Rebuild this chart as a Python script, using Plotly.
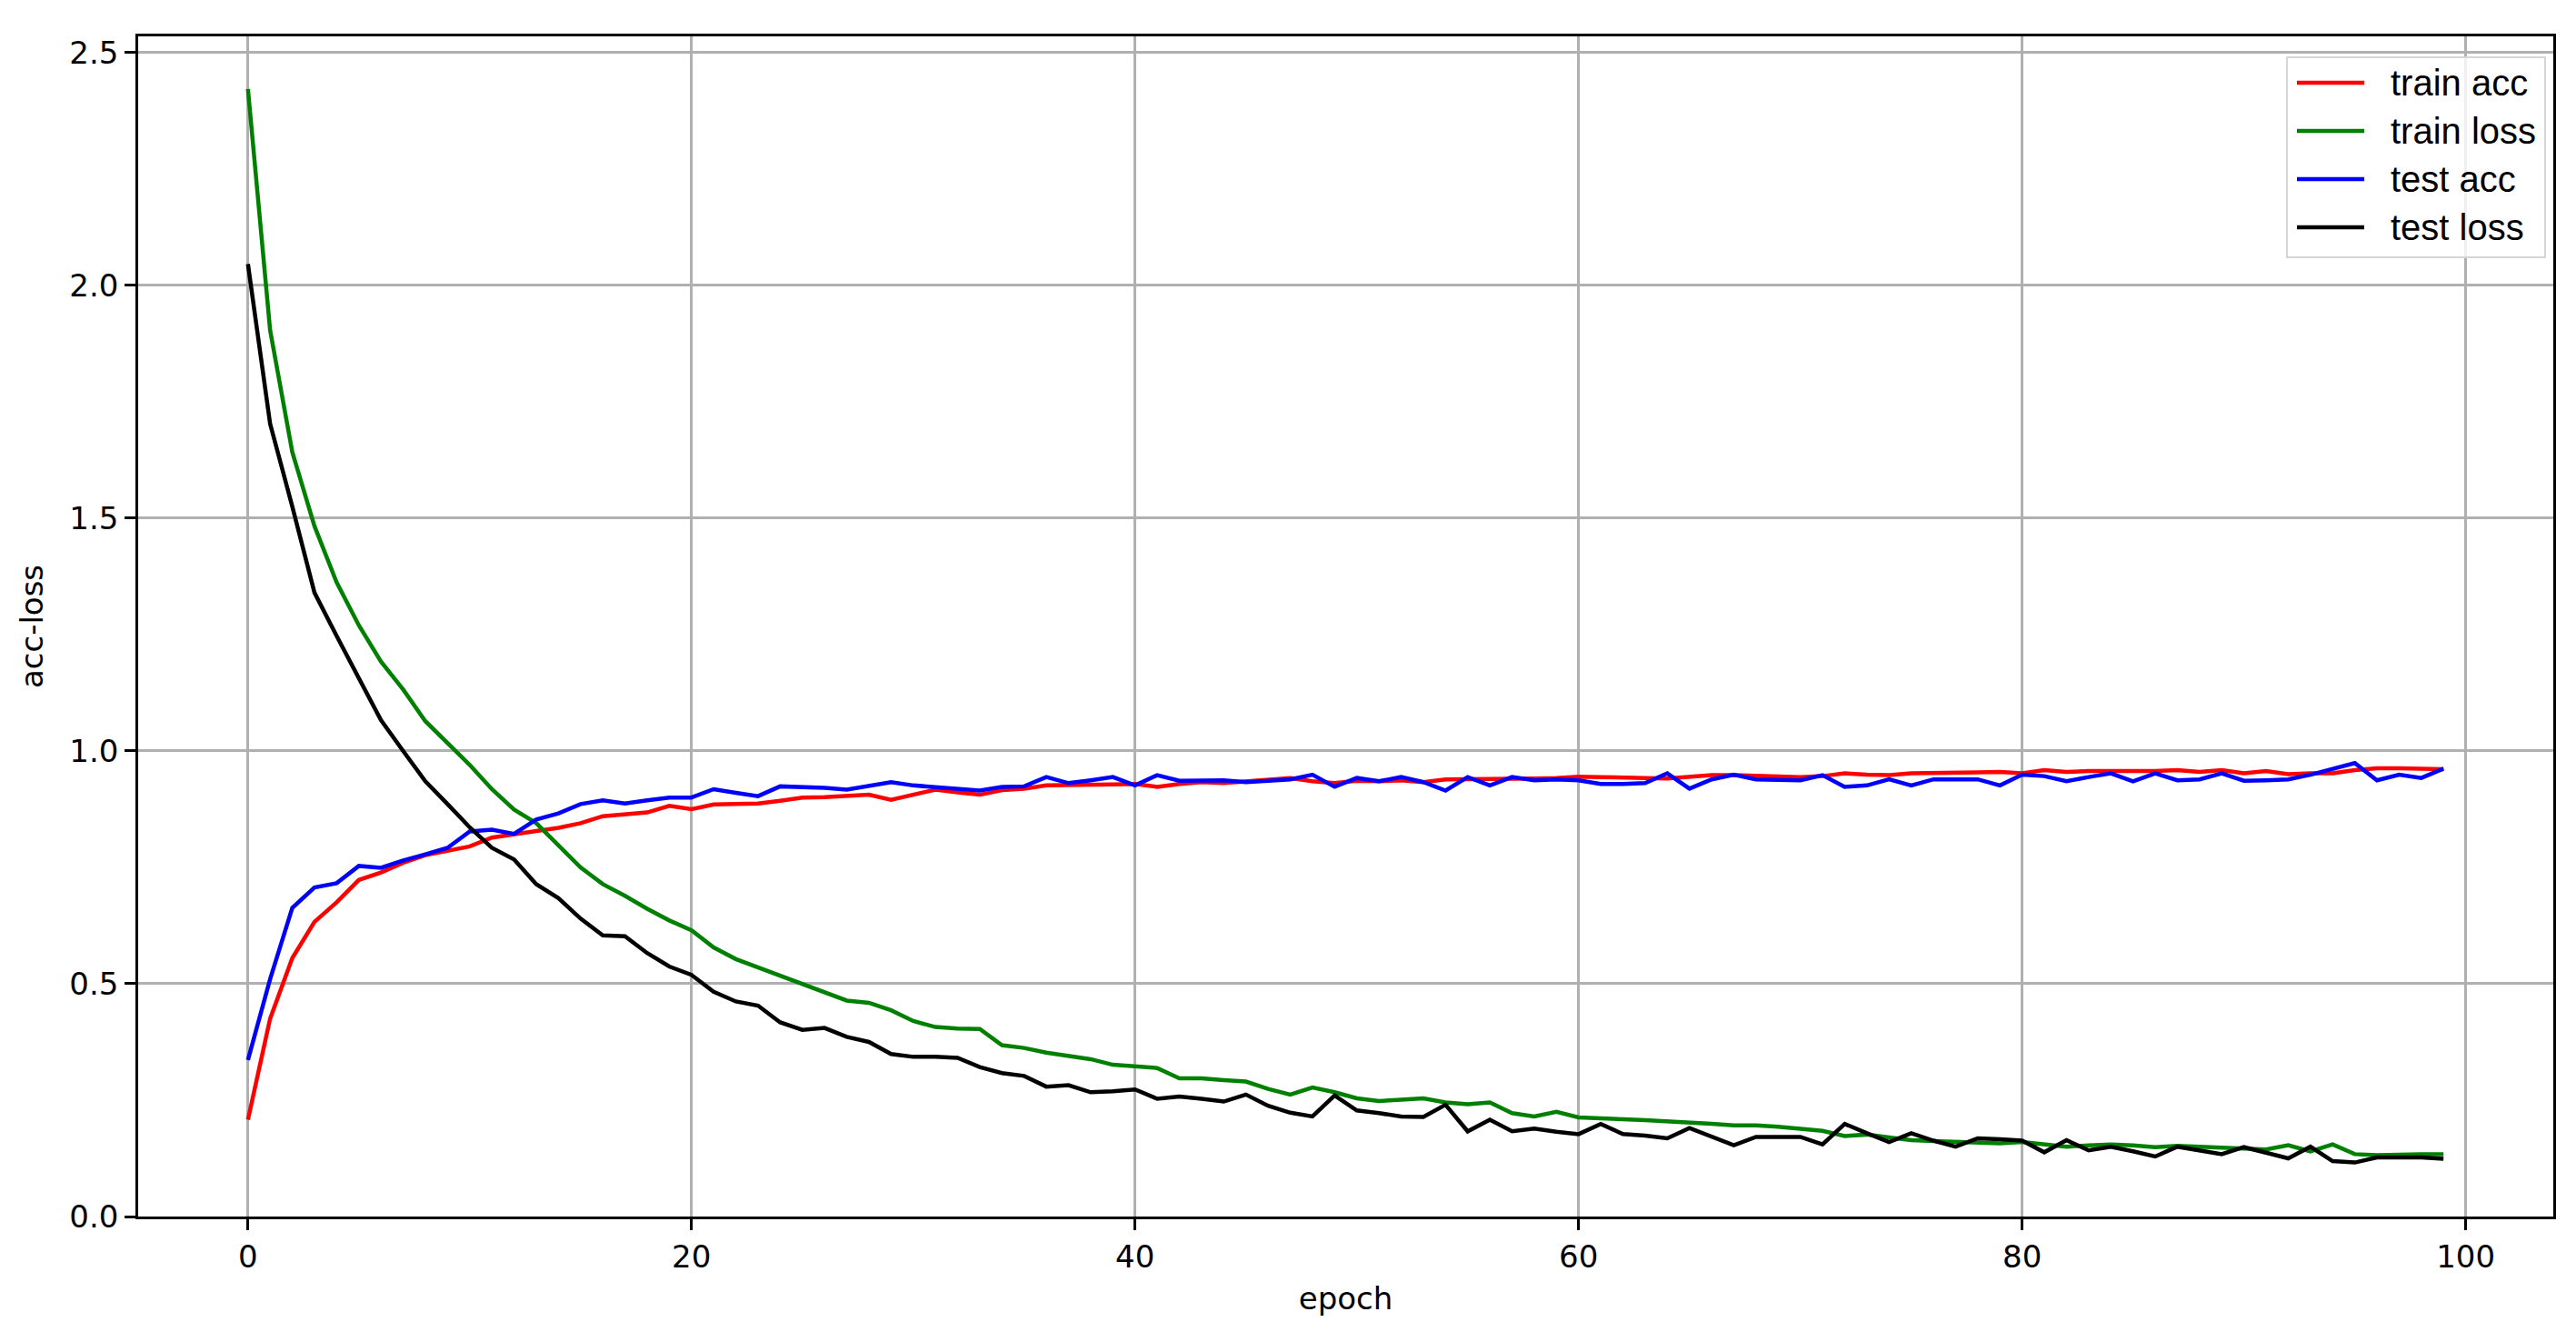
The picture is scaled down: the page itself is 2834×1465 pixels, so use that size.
import plotly.graph_objects as go

# values, one per epoch (0..99)
epochs = list(range(100))

train_acc = [
    0.208, 0.425, 0.555, 0.633, 0.675, 0.723, 0.739, 0.760, 0.776, 0.786,
    0.795, 0.814, 0.820, 0.828, 0.835, 0.845, 0.860, 0.865, 0.868, 0.882,
    0.875, 0.885, 0.885, 0.887, 0.893, 0.900, 0.901, 0.903, 0.906, 0.895,
    0.906, 0.917, 0.911, 0.906, 0.916, 0.919, 0.926, 0.926, 0.926, 0.928,
    0.929, 0.923, 0.929, 0.933, 0.931, 0.934, 0.937, 0.942, 0.935, 0.931,
    0.936, 0.935, 0.937, 0.933, 0.939, 0.939, 0.939, 0.941, 0.941, 0.942,
    0.945, 0.944, 0.942, 0.942, 0.941, 0.944, 0.948, 0.948, 0.946, 0.944,
    0.944, 0.946, 0.952, 0.949, 0.948, 0.952, 0.952, 0.954, 0.954, 0.955,
    0.952, 0.959, 0.955, 0.957, 0.957, 0.955, 0.957, 0.959, 0.955, 0.959,
    0.952, 0.957, 0.950, 0.952, 0.952, 0.959, 0.963, 0.963, 0.963, 0.961,
]

train_loss = [
    2.422, 1.904, 1.642, 1.483, 1.362, 1.270, 1.192, 1.132, 1.064, 1.016,
    0.970, 0.918, 0.874, 0.845, 0.796, 0.750, 0.714, 0.689, 0.661, 0.636,
    0.615, 0.578, 0.553, 0.535, 0.518, 0.498, 0.482, 0.464, 0.459, 0.443,
    0.420, 0.407, 0.404, 0.403, 0.368, 0.362, 0.352, 0.344, 0.338, 0.326,
    0.323, 0.319, 0.297, 0.297, 0.293, 0.290, 0.274, 0.262, 0.277, 0.267,
    0.254, 0.248, 0.251, 0.254, 0.245, 0.241, 0.245, 0.222, 0.215, 0.225,
    0.213, 0.210, 0.209, 0.207, 0.205, 0.202, 0.199, 0.196, 0.196, 0.193,
    0.188, 0.184, 0.173, 0.176, 0.170, 0.164, 0.162, 0.160, 0.158, 0.157,
    0.160, 0.155, 0.150, 0.153, 0.155, 0.153, 0.149, 0.152, 0.150, 0.150,
    0.147, 0.144, 0.153, 0.140, 0.155, 0.134, 0.132, 0.134, 0.134, 0.134,
]

test_acc = [
    0.336, 0.510, 0.663, 0.707, 0.716, 0.753, 0.749, 0.765, 0.778, 0.792,
    0.827, 0.831, 0.822, 0.853, 0.866, 0.886, 0.894, 0.887, 0.894, 0.900,
    0.900, 0.918, 0.910, 0.903, 0.924, 0.923, 0.921, 0.917, 0.926, 0.933,
    0.926, 0.923, 0.919, 0.915, 0.923, 0.924, 0.944, 0.931, 0.937, 0.944,
    0.926, 0.948, 0.936, 0.936, 0.937, 0.933, 0.935, 0.939, 0.949, 0.923,
    0.942, 0.935, 0.944, 0.933, 0.915, 0.944, 0.926, 0.944, 0.937, 0.939,
    0.937, 0.929, 0.929, 0.931, 0.952, 0.919, 0.939, 0.949, 0.939, 0.937,
    0.937, 0.948, 0.923, 0.926, 0.939, 0.926, 0.939, 0.939, 0.939, 0.926,
    0.949, 0.946, 0.935, 0.944, 0.952, 0.935, 0.952, 0.937, 0.939, 0.952,
    0.936, 0.937, 0.939, 0.949, 0.961, 0.974, 0.937, 0.949, 0.942, 0.962,
]

test_loss = [
    2.046, 1.703, 1.525, 1.340, 1.247, 1.155, 1.066, 1.000, 0.935, 0.886,
    0.836, 0.792, 0.767, 0.714, 0.684, 0.640, 0.604, 0.602, 0.566, 0.537,
    0.519, 0.483, 0.462, 0.453, 0.417, 0.401, 0.405, 0.386, 0.375, 0.349,
    0.343, 0.343, 0.341, 0.321, 0.308, 0.302, 0.279, 0.282, 0.267, 0.269,
    0.273, 0.253, 0.258, 0.253, 0.247, 0.262, 0.238, 0.223, 0.215, 0.260,
    0.228, 0.222, 0.215, 0.214, 0.240, 0.183, 0.208, 0.183, 0.189, 0.182,
    0.177, 0.199, 0.177, 0.174, 0.168, 0.190, 0.171, 0.153, 0.171, 0.171,
    0.171, 0.155, 0.199, 0.179, 0.160, 0.179, 0.163, 0.150, 0.168, 0.166,
    0.163, 0.138, 0.164, 0.142, 0.150, 0.140, 0.129, 0.150, 0.142, 0.134,
    0.149, 0.137, 0.125, 0.150, 0.119, 0.116, 0.127, 0.127, 0.127, 0.124,
]

series = [
    ("train acc", train_acc, "red"),
    ("train loss", train_loss, "green"),
    ("test acc", test_acc, "blue"),
    ("test loss", test_loss, "black"),
]

x_ticks = [0, 20, 40, 60, 80, 100]
y_ticks = [0.0, 0.5, 1.0, 1.5, 2.0, 2.5]

W, H = 2834, 1465
M = dict(l=144, r=33, t=32, b=135)
TICK_FONT = dict(family="DejaVu Sans", size=34, color="black")


def px_x(px):
    # page pixel -> paper x (used only for the legend box)
    return (px - M["l"]) / (W - M["l"] - M["r"])


def px_y(py):
    return (H - M["b"] - py) / (H - M["t"] - M["b"])


fig = go.Figure()
for name, vals, color in series:
    fig.add_trace(go.Scatter(x=epochs, y=vals, mode="lines", name=name,
                             line=dict(color=color, width=4.5), showlegend=False))

axis_style = dict(
    showline=True, mirror=True, linecolor="black", linewidth=2.5,
    ticks="outside", ticklen=12, tickwidth=2.5, tickcolor="black",
    showgrid=True, gridcolor="#b0b0b0", gridwidth=2.5,
    zeroline=False, tickfont=TICK_FONT,
)

fig.update_xaxes(range=[-4.95, 103.95], tickvals=x_ticks,
                 title=dict(text="epoch", standoff=16, font=TICK_FONT),
                 **axis_style)
fig.update_yaxes(range=[0.0, 2.535], tickvals=y_ticks, tickformat=".1f",
                 title=dict(text="acc-loss", standoff=19, font=TICK_FONT),
                 **axis_style)

# matplotlib-like legend box, top right
fig.add_shape(type="rect", xref="paper", yref="paper",
              x0=px_x(2508), x1=px_x(2792), y0=px_y(275), y1=px_y(55),
              fillcolor="rgba(255,255,255,0.8)", line=dict(color="#d6d6d6", width=2),
              layer="above")
row_y = [83, 136, 189, 242]
for (name, vals, color), ry in zip(series, row_y):
    fig.add_shape(type="line", xref="paper", yref="paper",
                  x0=px_x(2519), x1=px_x(2593), y0=px_y(ry), y1=px_y(ry),
                  line=dict(color=color, width=4.5), layer="above")
    fig.add_annotation(text=name, xref="paper", yref="paper",
                       x=px_x(2620), y=px_y(ry), xanchor="left", yanchor="middle",
                       showarrow=False,
                       font=dict(family="Liberation Sans", size=40, color="black"))

fig.update_layout(
    width=W, height=H,
    margin=M,
    paper_bgcolor="white", plot_bgcolor="white",
    showlegend=False,
)

fig.write_html("out.html")
